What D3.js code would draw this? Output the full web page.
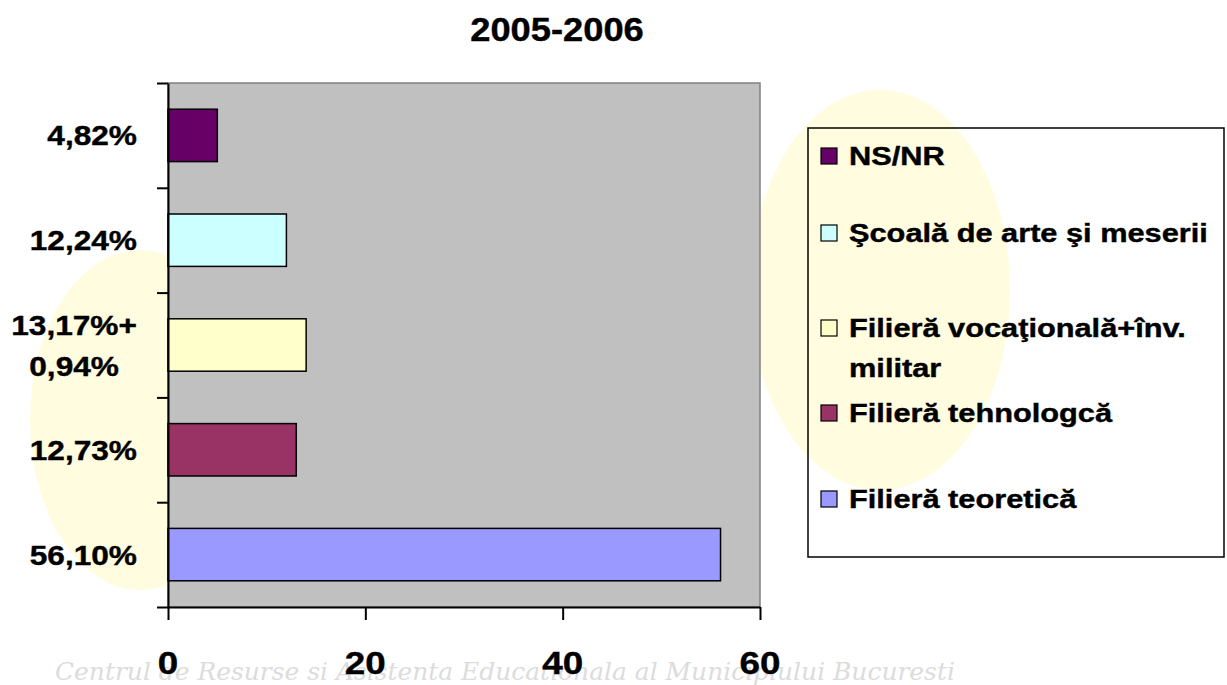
<!DOCTYPE html>
<html>
<head>
<meta charset="utf-8">
<script src="https://cdn.jsdelivr.net/npm/d3@7/dist/d3.min.js"></script>
<style>
  html, body { margin: 0; padding: 0; background: #ffffff; }
  svg { display: block; }
</style>
</head>
<body>
<svg id="chart" width="1227" height="685"></svg>
<script>
// ---- data ----
const title = "2005-2006";
const categories = ["NS/NR", "Şcoală de arte şi meserii", "Filieră vocaţională+înv. militar", "Filieră tehnologcă", "Filieră teoretică"];
const values = [5, 12, 14, 13, 56];
const valueLabels = [["4,82%"], ["12,24%"], ["13,17%+", "0,94%"], ["12,73%"], ["56,10%"]];
const colors = ["#660066", "#CCFFFF", "#FFFFCC", "#993366", "#9999FF"];
const legendLines = [["NS/NR"], ["Şcoală de arte şi meserii"], ["Filieră vocaţională+înv.", "militar"], ["Filieră tehnologcă"], ["Filieră teoretică"]];
const xTicks = [0, 20, 40, 60];
const watermark = "Centrul de Resurse si Asistenta Educationala al Municipiului Bucuresti";

// ---- layout ----
const FONT = "Liberation Sans, Arial, Helvetica, sans-serif";
const plot = { left: 168, right: 760, top: 83, bottom: 607 };
const svg = d3.select("#chart");

function stretchedText(parent, x, y, str, size, sx, anchor, fill) {
  const g = parent.append("g").attr("transform", `translate(${x},${y}) scale(${sx},1)`);
  const t = g.append("text")
    .attr("x", 0).attr("y", 0)
    .attr("font-family", FONT)
    .attr("font-weight", "bold")
    .attr("font-size", size)
    .attr("text-anchor", anchor)
    .attr("fill", fill || "#000")
    .attr("stroke", fill || "#000")
    .attr("stroke-width", 0.4)
    .text(str);
  return t;
}

// faint background logo (watermark)
const bg = svg.append("g").attr("opacity", 0.4);
bg.append("ellipse").attr("cx", 140).attr("cy", 420).attr("rx", 110).attr("ry", 170).attr("fill", "#FFF7B0");
bg.append("ellipse").attr("cx", 880).attr("cy", 290).attr("rx", 130).attr("ry", 200).attr("fill", "#FFF7B0");

// watermark (faint background text)
{
  const wm = svg.append("g").attr("transform", `translate(55,678)`);
  const t = wm.append("text")
    .attr("font-family", "DejaVu Serif, serif")
    .attr("font-style", "italic")
    .attr("font-size", 24)
    .attr("fill", "#dcdcdc")
    .text(watermark);
  const len = t.node().getComputedTextLength();
  wm.attr("transform", `translate(55,680) scale(${900 / len},1)`);
}

// scales
const x = d3.scaleLinear().domain([0, 60]).range([plot.left, plot.right]);
const y = d3.scaleBand().domain(categories).range([plot.top, plot.bottom])
  .paddingInner(0.5).paddingOuter(0.25);
const yTicksScale = d3.scaleLinear().domain([0, categories.length]).range([plot.top, plot.bottom]);

// plot area
svg.append("rect")
  .attr("x", plot.left).attr("y", plot.top)
  .attr("width", plot.right - plot.left).attr("height", plot.bottom - plot.top)
  .attr("fill", "#C0C0C0")
  .attr("stroke", "#808080").attr("stroke-width", 1.5);

// bars
svg.append("g").selectAll("rect")
  .data(categories)
  .join("rect")
  .attr("x", x(0))
  .attr("y", d => y(d))
  .attr("width", (d, i) => x(values[i]) - x(0))
  .attr("height", y.bandwidth())
  .attr("fill", (d, i) => colors[i])
  .attr("stroke", "#000").attr("stroke-width", 1.5);

// y axis (category separators)
const yAxis = svg.append("g")
  .attr("transform", `translate(${plot.left},0)`)
  .call(d3.axisLeft(yTicksScale).ticks(categories.length).tickSize(11).tickSizeOuter(0).tickFormat(""));
yAxis.selectAll("path, line").attr("stroke", "#000").attr("stroke-width", 2);

// x axis
const xAxis = svg.append("g")
  .attr("transform", `translate(0,${plot.bottom})`)
  .call(d3.axisBottom(x).tickValues(xTicks).tickSize(13).tickSizeOuter(0).tickFormat(""));
xAxis.selectAll("path, line").attr("stroke", "#000").attr("stroke-width", 2);

// x tick labels
xTicks.forEach(t => stretchedText(svg, x(t), 674, String(t), 32, 1.15, "middle"));

// category labels (right-aligned blocks, lines centered within block)
const labelRight = 137;
const catLineH = 41;
categories.forEach((c, i) => {
  const lines = valueLabels[i];
  const cy = y(c) + y.bandwidth() / 2;
  const sx = 1.13, fs = 28;
  const first = cy + 10 - (lines.length - 1) * catLineH / 2;
  const tmp = svg.append("text").attr("font-family", FONT).attr("font-weight", "bold").attr("font-size", fs);
  const widths = lines.map(l => { tmp.text(l); return tmp.node().getComputedTextLength() * sx; });
  tmp.remove();
  const W = d3.max(widths);
  lines.forEach((l, k) => {
    stretchedText(svg, labelRight - W / 2, first + k * catLineH, l, fs, sx, "middle");
  });
});

// title
stretchedText(svg, 557, 41, title, 33, 1.1, "middle");

// legend (transparent box)
const legend = { left: 808, top: 128, right: 1224, bottom: 557 };
svg.append("rect")
  .attr("x", legend.left).attr("y", legend.top)
  .attr("width", legend.right - legend.left).attr("height", legend.bottom - legend.top)
  .attr("fill", "none").attr("stroke", "#000").attr("stroke-width", 1.5);
const legBases = [0, 77, 172, 257, 343]; // offsets of entry baselines from first entry
const legLineH = 40;
legendLines.forEach((lines, i) => {
  const base = legend.top + 37 + legBases[i];
  svg.append("rect")
    .attr("x", legend.left + 13).attr("y", base - 17)
    .attr("width", 16).attr("height", 16)
    .attr("fill", colors[i]).attr("stroke", "#000").attr("stroke-width", 1.2);
  lines.forEach((l, k) => {
    stretchedText(svg, legend.left + 41, base + k * legLineH, l, 25, 1.23, "start");
  });
});
</script>
</body>
</html>
